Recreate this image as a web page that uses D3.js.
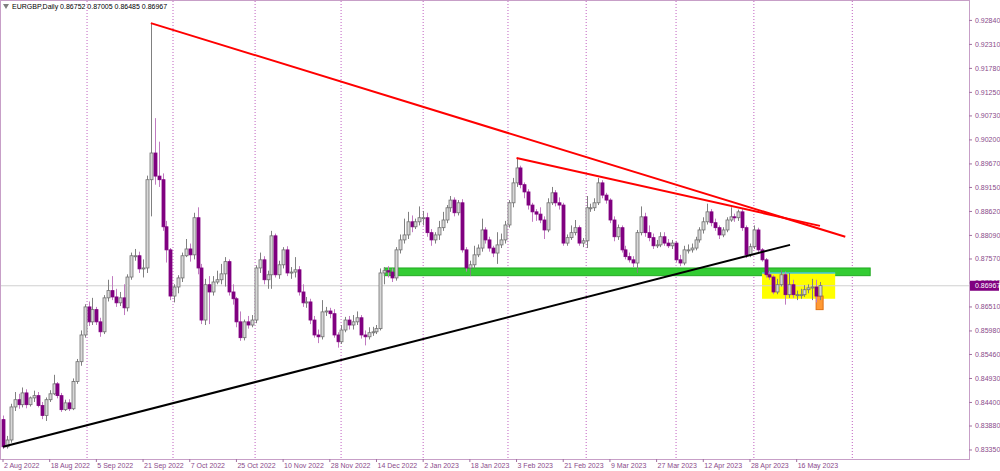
<!DOCTYPE html>
<meta charset="utf-8">
<style>
    body { margin: 0; background: #fff; }
    text { font-family: "Liberation Sans", Arial, sans-serif; font-size: 7px; }
</style>
<body>
<script src="https://d3js.org/d3.v7.min.js"></script>
<script>
    // daily closes, highs, lows (first open given separately)
    var firstOpen = 0.8401;
    var closes = [.8341,.8356,.8429,.8445,.8434,.8460,.8434,.8449,.8454,.8432,
        .8410,.8445,.8458,.8480,.8454,.8423,.8438,.8425,.8485,.8529,
        .8588,.8650,.8617,.8644,.8617,.8595,.8670,.8686,.8672,.8659,
        .8670,.8648,.8716,.8763,.8763,.8734,.8736,.8931,.8990,.8939,
        .8931,.8827,.8776,.8674,.8694,.8714,.8763,.8778,.8765,.8847,
        .8736,.8621,.8699,.8683,.8705,.8710,.8723,.8750,.8683,.8668,
        .8617,.8582,.8617,.8610,.8621,.8736,.8754,.8710,.8721,.8807,
        .8721,.8743,.8776,.8725,.8727,.8732,.8683,.8659,.8661,.8621,
        .8588,.8584,.8639,.8641,.8635,.8588,.8573,.8599,.8621,.8610,
        .8617,.8626,.8588,.8584,.8593,.8595,.8602,.8725,.8730,.8727,
        .8714,.8776,.8798,.8809,.8838,.8827,.8838,.8847,.8847,.8814,
        .8798,.8809,.8825,.8842,.8869,.8886,.8858,.8880,.8776,.8736,
        .8743,.8765,.8780,.8820,.8798,.8780,.8769,.8787,.8798,.8831,
        .8880,.8924,.8957,.8920,.8904,.8875,.8860,.8855,.8842,.8820,
        .8880,.8902,.8880,.8875,.8791,.8803,.8814,.8825,.8791,.8796,
        .8869,.8869,.8880,.8924,.8897,.8886,.8842,.8805,.8825,.8776,
        .8761,.8754,.8747,.8814,.8849,.8814,.8803,.8785,.8787,.8805,
        .8791,.8785,.8791,.8754,.8747,.8776,.8776,.8780,.8798,.8820,
        .8838,.8860,.8836,.8825,.8809,.8820,.8842,.8849,.8847,.8860,
        .8825,.8765,.8783,.8820,.8776,.8754,.8721,.8716,.8683,.8699,
        .8721,.8677,.8699,.8677,.8677,.8677,.8688,.8692,.8694,.8674,.8697];
    var highs = [.8410,.8365,.8436,.8462,.8458,.8472,.8468,.8452,.8465,.8462,
        .8440,.8450,.8466,.8500,.8484,.8460,.8445,.8446,.8492,.8535,
        .8598,.8656,.8662,.8670,.8650,.8626,.8676,.8710,.8718,.8690,
        .8683,.8700,.8722,.8770,.8778,.8772,.8755,.8940,.9277,.9067,
        .9015,.8945,.8840,.8780,.8700,.8720,.8770,.8800,.8790,.8858,
        .8870,.8745,.8712,.8718,.8718,.8730,.8745,.8760,.8755,.8700,
        .8672,.8640,.8622,.8630,.8632,.8742,.8770,.8762,.8730,.8818,
        .8812,.8752,.8782,.8784,.8738,.8760,.8740,.8700,.8672,.8668,
        .8630,.8600,.8665,.8650,.8648,.8645,.8594,.8610,.8628,.8630,
        .8632,.8640,.8632,.8598,.8605,.8606,.8610,.8735,.8738,.8740,
        .8735,.8782,.8810,.8845,.8860,.8852,.8845,.8872,.8862,.8858,
        .8822,.8815,.8840,.8860,.8875,.8895,.8892,.8886,.8888,.8782,
        .8752,.8785,.8788,.8845,.8826,.8805,.8785,.8815,.8812,.8840,
        .8886,.8935,.8979,.8962,.8925,.8910,.8880,.8866,.8870,.8850,
        .8890,.8915,.8908,.8892,.8880,.8810,.8830,.8842,.8830,.8802,
        .8895,.8878,.8890,.8935,.8930,.8902,.8890,.8850,.8832,.8830,
        .8785,.8770,.8762,.8820,.8872,.8858,.8830,.8812,.8798,.8815,
        .8815,.8800,.8798,.8796,.8765,.8785,.8788,.8790,.8805,.8826,
        .8848,.8878,.8866,.8845,.8830,.8826,.8848,.8870,.8856,.8865,
        .8866,.8830,.8790,.8830,.8825,.8780,.8758,.8730,.8720,.8712,
        .8732,.8728,.8725,.8710,.8686,.8690,.8698,.8700,.8712,.8710,.8705];
    var lows = [.8336,.8337,.8350,.8420,.8425,.8428,.8426,.8430,.8440,.8428,
        .8402,.8398,.8440,.8455,.8448,.8418,.8420,.8420,.8422,.8480,
        .8520,.8582,.8608,.8610,.8610,.8584,.8590,.8662,.8665,.8650,
        .8652,.8632,.8640,.8710,.8752,.8725,.8715,.8725,.8850,.8920,
        .8915,.8818,.8748,.8665,.8660,.8680,.8705,.8760,.8750,.8755,
        .8722,.8612,.8610,.8612,.8675,.8700,.8700,.8695,.8675,.8655,
        .8605,.8575,.8576,.8602,.8605,.8614,.8725,.8700,.8690,.8690,
        .8715,.8712,.8735,.8718,.8712,.8715,.8675,.8650,.8648,.8612,
        .8582,.8570,.8578,.8630,.8625,.8582,.8560,.8568,.8594,.8600,
        .8600,.8610,.8580,.8565,.8578,.8586,.8590,.8598,.8700,.8715,
        .8705,.8708,.8768,.8790,.8800,.8815,.8822,.8830,.8830,.8805,
        .8785,.8790,.8798,.8818,.8835,.8860,.8850,.8852,.8770,.8728,
        .8718,.8735,.8760,.8772,.8790,.8772,.8760,.8745,.8780,.8790,
        .8825,.8870,.8915,.8912,.8890,.8865,.8838,.8840,.8835,.8800,
        .8815,.8875,.8872,.8865,.8785,.8785,.8798,.8808,.8785,.8782,
        .8780,.8860,.8862,.8875,.8890,.8878,.8835,.8795,.8798,.8770,
        .8755,.8748,.8738,.8725,.8808,.8805,.8795,.8778,.8780,.8782,
        .8785,.8780,.8778,.8748,.8740,.8742,.8768,.8770,.8775,.8792,
        .8812,.8832,.8828,.8818,.8800,.8804,.8815,.8838,.8838,.8840,
        .8818,.8758,.8760,.8778,.8770,.8750,.8715,.8710,.8678,.8678,
        .8695,.8655,.8670,.8670,.8665,.8668,.8672,.8680,.8665,.8660,.8665];

    var priceTicks = [0.92840,0.92310,0.91780,0.91250,0.90730,0.90200,0.89670,0.89150,0.88620,
        0.88090,0.87570,0.87040,0.86510,0.85980,0.85460,0.84930,0.84400,0.83880,0.83350];
    var dateLabels = ["2 Aug 2022","18 Aug 2022","5 Sep 2022","21 Sep 2022","7 Oct 2022","25 Oct 2022",
        "10 Nov 2022","28 Nov 2022","14 Dec 2022","2 Jan 2023","18 Jan 2023","3 Feb 2023",
        "21 Feb 2023","9 Mar 2023","27 Mar 2023","12 Apr 2023","28 Apr 2023","16 May 2023"];
    var dateStep = 12;
    var monthSeparators = [21.6,43.7,64.8,86.9,108,129.8,149.9,173,193,218.3];
    var lastPrice = 0.86967;
    var title = "EURGBP,Daily  0.86752 0.87005 0.86485 0.86967";

    // drawn objects: [bar, price] endpoints / boxes
    var redLines = [[[38, 0.9277], [216.5, 0.8805]], [[132, 0.8979], [210, 0.8829]]];
    var blackLine = [[0, 0.8341], [202.3, 0.8787]];
    var greenZone = {x0: 98, x1: 222.9, p0: 0.8736, p1: 0.8719};
    var yellowZone = {x0: 195.1, x1: 213.9, p0: 0.8725, p1: 0.8668};
    var orangeZone = {x0: 209, x1: 210.8, p0: 0.8674, p1: 0.8644};

    var W = 1000, H = 471, plotR = 969, plotB = 459;

    var candles = closes.map((c, i) => ({
        i: i, o: i === 0 ? firstOpen : closes[i - 1], c: c, h: highs[i], l: lows[i]
    }));

    var x = d3.scaleLinear().domain([0, 210]).range([3, 820]);
    var y = d3.scaleLinear().domain([0.8314, 0.9328]).range([plotB, 0]);

    var svg = d3.select("body").append("svg").attr("width", W).attr("height", H);

    svg.append("rect").attr("x", 0.5).attr("y", 0.5).attr("width", plotR).attr("height", plotB)
        .attr("fill", "#fff").attr("stroke", "#c79fc7");

    svg.selectAll(".sep").data(monthSeparators).join("line")
        .attr("x1", d => x(d)).attr("x2", d => x(d)).attr("y1", 1).attr("y2", plotB)
        .attr("stroke", "#c060c0").attr("stroke-dasharray", "1,2");

    function box(z, fill, stroke) {
        svg.append("rect")
            .attr("x", x(z.x0)).attr("width", x(z.x1) - x(z.x0))
            .attr("y", y(z.p0)).attr("height", y(z.p1) - y(z.p0))
            .attr("fill", fill).attr("stroke", stroke || "none");
    }
    box(greenZone, "#33cc33", "#22aa22");
    box(yellowZone, "#ffff00");
    svg.append("line").attr("x1", x(yellowZone.x0)).attr("x2", x(yellowZone.x1))
        .attr("y1", y(yellowZone.p0)).attr("y2", y(yellowZone.p0))
        .attr("stroke", "#45c8e0").attr("stroke-width", 1.5);
    box(orangeZone, "#ff9933", "#e07010");

    // current price line
    svg.append("line").attr("x1", 1).attr("x2", plotR).attr("y1", y(lastPrice)).attr("y2", y(lastPrice))
        .attr("stroke", "#d0d0d0");

    var bw = 3;
    var g = svg.append("g");
    g.selectAll(".wick").data(candles).join("line")
        .attr("x1", d => Math.round(x(d.i)) + 0.5).attr("x2", d => Math.round(x(d.i)) + 0.5)
        .attr("y1", d => y(d.h)).attr("y2", d => y(d.l))
        .attr("stroke", d => d.c < d.o ? "#c07ac0" : "#808080");
    g.selectAll(".body").data(candles).join("rect")
        .attr("x", d => Math.round(x(d.i)) + 0.5 - bw / 2)
        .attr("width", bw)
        .attr("y", d => y(Math.max(d.o, d.c)))
        .attr("height", d => Math.max(1, Math.abs(y(d.o) - y(d.c))))
        .attr("fill", d => d.c < d.o ? "#800080" : "#d8d8d8")
        .attr("stroke", d => d.c < d.o ? "#800080" : "#707070")
        .attr("stroke-width", 0.8);

    var line = d3.line().x(d => x(d[0])).y(d => y(d[1]));
    redLines.forEach(l => svg.append("path").attr("d", line(l)).attr("stroke", "#ff0000")
        .attr("stroke-width", 2).attr("fill", "none"));
    svg.append("path").attr("d", line(blackLine)).attr("stroke", "#000")
        .attr("stroke-width", 2).attr("fill", "none");

    // right price axis
    var ax = svg.append("g").attr("transform", "translate(" + plotR + ",0)")
        .call(d3.axisRight(y).tickValues(priceTicks).tickSize(3).tickFormat(d3.format(".5f")));
    ax.select(".domain").remove();
    ax.selectAll("line").attr("stroke", "#a070a0");
    ax.selectAll("text").attr("fill", "#8a4a8a").attr("x", 6)
        .style("font-family", "'Liberation Sans', Arial, sans-serif").style("font-size", "7px");

    var tag = svg.append("g").attr("transform", "translate(" + (plotR + 1) + "," + y(lastPrice) + ")");
    tag.append("rect").attr("x", 0).attr("y", -5).attr("width", 29).attr("height", 10).attr("fill", "#800080");
    tag.append("text").attr("x", 5).attr("y", 2.5).attr("fill", "#fff").text(d3.format(".5f")(lastPrice));

    // bottom date axis
    var dg = svg.append("g");
    dateLabels.forEach((lab, k) => {
        var xx = x(k * dateStep);
        dg.append("line").attr("x1", xx).attr("x2", xx).attr("y1", plotB).attr("y2", plotB + 3).attr("stroke", "#a070a0");
        dg.append("text").attr("x", xx + 1).attr("y", plotB + 9).attr("fill", "#8a4a8a").text(lab);
    });

    svg.append("path").attr("d", "M3,4 L9,4 L6,9 Z").attr("fill", "#808080");
    svg.append("text").attr("x", 12).attr("y", 9).attr("fill", "#000").text(title);
</script>
</body>
</html>
